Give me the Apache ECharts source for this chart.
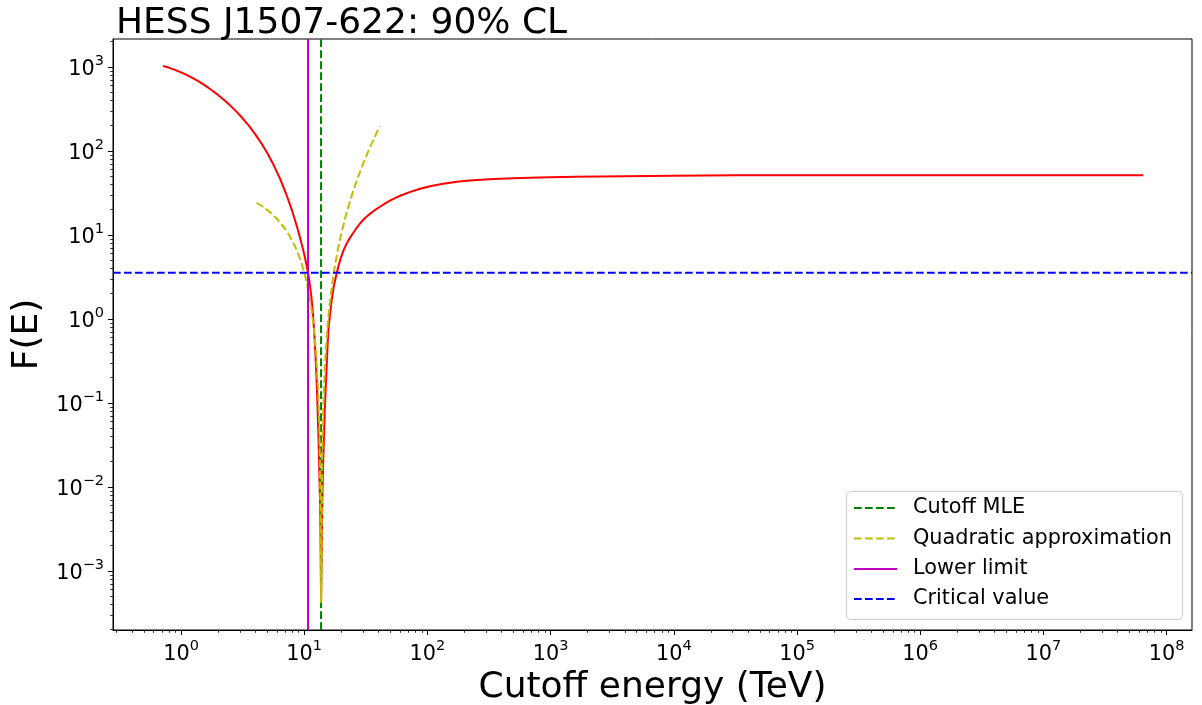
<!DOCTYPE html>
<html><head><meta charset="utf-8">
<script src="https://cdn.jsdelivr.net/npm/echarts@6/dist/echarts.min.js"></script>
<style>html,body{margin:0;padding:0;background:#fff}#c{width:1202px;height:705px}</style>
</head><body><div id="c"></div>
<script>
// ---- data ----
const energyRed = [0.714, 0.794, 0.891, 1.0, 1.122, 1.259, 1.413, 1.585, 1.778, 1.995, 2.239, 2.512, 2.818, 3.162, 3.548, 3.981, 4.467, 5.012, 5.623, 6.31, 7.079, 7.943, 8.913, 9.441, 10.0, 10.35, 10.74, 11.09, 11.48, 11.75, 12.02, 12.30, 12.59, 12.79, 13.00, 13.18, 13.43, 13.58, 13.71,
  13.87, 14.03, 14.26, 14.49, 14.72, 14.96, 15.42, 15.70, 16.22, 16.71, 17.38, 18.37, 19.05, 19.95, 20.89, 22.13, 23.44, 25.12, 26.61, 28.38, 30.90, 33.88, 37.15, 41.21, 45.71, 50.12, 54.95, 59.98, 70.79, 87.10, 109.6, 138.0, 173.8, 218.8, 275.4, 346.7, 501.2, 794.3, 1585, 3981, 1e4, 3.16e4, 1e5, 1e6, 1e7, 6.46e7];
const fRed = [1028, 984, 925, 863, 798, 731, 664, 596, 528, 465, 404, 347, 294, 245, 200, 160, 125, 94.4, 68.9, 48.1, 31.8, 19.8, 11.4, 8.28, 5.89, 4.68, 3.56, 2.63, 1.74, 1.20, 0.741, 0.407, 0.195, 0.102, 0.0468, 0.0219, 0.00692, 0.00219, 0.000427,
  0.0020, 0.00708, 0.020, 0.044, 0.0891, 0.158, 0.428, 0.74, 1.15, 1.68, 2.45, 3.56, 4.37, 5.50, 6.61, 7.94, 9.18, 10.7, 12.1, 13.7, 15.7, 17.7, 19.6, 21.7, 23.9, 25.8, 27.6, 29.3, 32.2, 35.5, 38.5, 40.9, 42.9, 44.4, 45.5, 46.3, 47.3, 48.3, 49.3, 50.2, 50.8, 51.3, 51.5, 51.6, 51.6, 51.6];
const energyQuad = [4.1, 4.5, 5, 5.5, 6, 6.5, 7, 7.5, 8, 8.5, 9, 9.5, 10, 10.5, 11, 11.5, 12, 12.5, 13, 13.25, 13.5, 13.7, 14, 14.25, 14.5, 14.75, 15, 15.5, 16, 17, 18, 19, 20, 22, 25, 27.5, 30, 32.5, 35, 38, 41];
const fQuad = [24.2, 22.3, 19.9, 17.7, 15.6, 13.6, 11.8, 10.1, 8.55, 7.11, 5.81, 4.64, 3.6, 2.69, 1.92, 1.27, 0.76, 0.379, 0.129, 0.0533, 0.0105, 0.00042, 0.0237, 0.0796, 0.168, 0.290, 0.444, 0.852, 1.39, 2.86, 4.86, 7.39, 10.4, 18.1, 33.6, 50.1, 69.9, 93.0, 119, 155, 196];
const cutoffMLE = 13.7;
const lowerLimit = 10.74;
const criticalValue = 3.56;
const xTickExponents = [0, 1, 2, 3, 4, 5, 6, 7, 8];
const yTickExponents = [-3, -2, -1, 0, 1, 2, 3];
const xRange = [0.2805, 1.607e8];
const yRange = [1.986e-4, 2153];
const legendLabels = ['Cutoff MLE', 'Quadratic approximation', 'Lower limit', 'Critical value'];

// ---- helpers ----
const L = Math.log10;
const FONT = 'DejaVu Sans';
const xMinL = L(xRange[0]), xMaxL = L(xRange[1]);
const yMinL = L(yRange[0]), yMaxL = L(yRange[1]);
function minorTicks(lo, hi) {
  const out = [];
  for (let n = Math.floor(lo) - 1; n <= Math.ceil(hi); n++) {
    for (let k = 2; k <= 9; k++) {
      const v = n + L(k);
      if (v > lo && v < hi) out.push(v);
    }
  }
  return out;
}
const fmt = v => '{b|10}{s|' + (v < 0 ? '\u2212' + (-v) : v) + '}';
const rich = {
  b: {fontSize: 20.8, fontFamily: FONT, color: '#000', lineHeight: 26, verticalAlign: 'bottom'},
  s: {fontSize: 14.5, fontFamily: FONT, color: '#000', lineHeight: 20, verticalAlign: 'top'}
};
const pairs = (xs, ys) => xs.map((x, i) => [L(x), L(ys[i])]);

const green = '#008000', yellow = '#bfbf00', magenta = '#bf00bf', blue = '#0000ff', red = '#ff0000';
const dash = [7.7, 3.3];

const chart = echarts.init(document.getElementById('c'), null, {renderer: 'canvas'});

// legend built as graphics
const legX = 846, legY = 491, legW = 336, legH = 128;
const rowY = [508, 538.5, 569, 599];
const legStyles = [
  {color: green, dash: dash}, {color: yellow, dash: dash}, {color: magenta, dash: null}, {color: blue, dash: dash}
];
const graphics = [{
  type: 'rect', shape: {x: legX + 0.5, y: legY + 0.5, width: legW, height: legH, r: 4},
  style: {fill: 'rgba(255,255,255,0.8)', stroke: '#cccccc', lineWidth: 1}, z: 100
}];
legendLabels.forEach((t, i) => {
  graphics.push({
    type: 'line', shape: {x1: 854, y1: rowY[i], x2: 897, y2: rowY[i]},
    style: {stroke: legStyles[i].color, lineWidth: 2, lineDash: legStyles[i].dash}, z: 101
  });
  graphics.push({
    type: 'text', x: 913, y: rowY[i],
    style: {text: t, font: '20.8px "' + FONT + '"', fill: '#000', verticalAlign: 'middle', align: 'left'}, z: 101
  });
});

const option = {
  animation: false,
  backgroundColor: '#fff',
  title: {
    text: 'HESS J1507-622: 90% CL', left: 111, top: 1,
    textStyle: {fontSize: 36, fontWeight: 'normal', fontFamily: FONT, color: '#000', lineHeight: 36}
  },
  grid: {left: 113, top: 39, width: 1079, height: 591, show: true, borderColor: '#000', borderWidth: 1,
    backgroundColor: 'transparent', containLabel: false, outerBoundsMode: 'none'},
  xAxis: [{
    type: 'value', min: xMinL, max: xMaxL, position: 'bottom',
    axisLine: {show: true, onZero: false, lineStyle: {color: '#000', width: 1}},
    axisTick: {show: true, customValues: xTickExponents, length: 5, lineStyle: {color: '#000', width: 1}},
    axisLabel: {show: true, customValues: xTickExponents, formatter: fmt, rich: rich, margin: 9},
    splitLine: {show: false},
    name: 'Cutoff energy (TeV)', nameLocation: 'middle', nameGap: 32,
    nameTextStyle: {fontSize: 36, fontFamily: FONT, color: '#000', lineHeight: 36}
  }, {
    type: 'value', min: xMinL, max: xMaxL, position: 'bottom',
    axisLine: {show: false, onZero: false},
    axisTick: {show: true, customValues: minorTicks(xMinL, xMaxL), length: 2.8, lineStyle: {color: '#000', width: 0.8}},
    axisLabel: {show: false}, splitLine: {show: false}
  }],
  yAxis: [{
    type: 'value', min: yMinL, max: yMaxL, position: 'left',
    axisLine: {show: true, onZero: false, lineStyle: {color: '#000', width: 1}},
    axisTick: {show: true, customValues: yTickExponents, length: 5, lineStyle: {color: '#000', width: 1}},
    axisLabel: {show: true, customValues: yTickExponents, formatter: fmt, rich: rich, margin: 9},
    splitLine: {show: false},
    name: 'F(E)', nameLocation: 'middle', nameGap: 64,
    nameTextStyle: {fontSize: 36, fontFamily: FONT, color: '#000', lineHeight: 36}
  }, {
    type: 'value', min: yMinL, max: yMaxL, position: 'left',
    axisLine: {show: false, onZero: false},
    axisTick: {show: true, customValues: minorTicks(yMinL, yMaxL), length: 2.8, lineStyle: {color: '#000', width: 0.8}},
    axisLabel: {show: false}, splitLine: {show: false}
  }],
  series: [
    {name: 'F', type: 'line', xAxisIndex: 0, yAxisIndex: 0, data: pairs(energyRed, fRed), symbol: 'none', lineStyle: {color: red, width: 2}, z: 2},
    {name: legendLabels[0], type: 'line', xAxisIndex: 0, yAxisIndex: 0, data: [[L(cutoffMLE), yMinL], [L(cutoffMLE), yMaxL]], symbol: 'none', lineStyle: {color: green, width: 2, type: dash}, z: 3},
    {name: legendLabels[1], type: 'line', xAxisIndex: 0, yAxisIndex: 0, data: pairs(energyQuad, fQuad), symbol: 'none', lineStyle: {color: yellow, width: 2, type: dash}, z: 4},
    {name: legendLabels[2], type: 'line', xAxisIndex: 0, yAxisIndex: 0, data: [[L(lowerLimit), yMinL], [L(lowerLimit), yMaxL]], symbol: 'none', lineStyle: {color: magenta, width: 2}, z: 5},
    {name: legendLabels[3], type: 'line', xAxisIndex: 0, yAxisIndex: 0, data: [[xMinL, L(criticalValue)], [xMaxL, L(criticalValue)]], symbol: 'none', lineStyle: {color: blue, width: 2, type: dash}, z: 6}
  ],
  graphic: graphics
};
chart.setOption(option);
</script>
</body></html>
